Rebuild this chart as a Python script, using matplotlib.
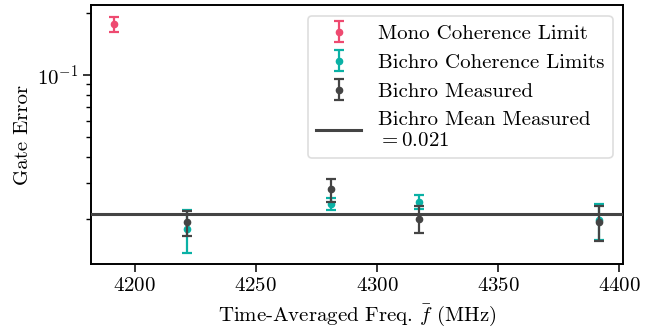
import matplotlib
matplotlib.use("Agg")
import matplotlib.pyplot as plt
from matplotlib.ticker import LogLocator, NullFormatter

plt.rcParams["font.family"] = "serif"
plt.rcParams["font.serif"] = ["cmr10"]
plt.rcParams["mathtext.fontset"] = "cm"
plt.rcParams["axes.formatter.use_mathtext"] = True
plt.rcParams["font.size"] = 15

# ── Data ───────────────────────────────────────────────────────────────────────
mono_freq = [4191.4]
mono_err_val = [0.1767]
mono_err_unc = [0.0143]

bichro_freq = [4221.4, 4280.9, 4317.5, 4391.5]
bichro_limit = [0.0178, 0.02355, 0.02415, 0.0197]
bichro_limit_unc = [0.0042, 0.0016, 0.0019, 0.0040]
bichro_meas = [0.0192, 0.0278, 0.0200, 0.0193]
bichro_meas_unc = [0.0027, 0.0036, 0.0030, 0.0037]
mean_meas = 0.021

PINK = "#ee4a70"
TEAL = "#0ab1a5"
DARK = "#444444"

fig = plt.figure(figsize=(6.61, 3.35), dpi=100)
ax = fig.add_axes([0.1377, 0.2119, 0.8048, 0.7717])

eb_kw = dict(fmt="o", markersize=4.5, elinewidth=1.6, capsize=3.4, capthick=1.6)
h1 = ax.errorbar(mono_freq, mono_err_val, yerr=mono_err_unc, color=PINK,
                 label="Mono Coherence Limit", zorder=3, **eb_kw)
h2 = ax.errorbar(bichro_freq, bichro_limit, yerr=bichro_limit_unc, color=TEAL,
                 label="Bichro Coherence Limits", zorder=3, **eb_kw)
h3 = ax.errorbar(bichro_freq, bichro_meas, yerr=bichro_meas_unc, color=DARK,
                 label="Bichro Measured", zorder=4, **eb_kw)
h4 = ax.axhline(mean_meas, color=DARK, lw=2.2, zorder=5,
                label="Bichro Mean Measured\n$= 0.021$")

ax.set_yscale("log")
ax.set_xlim(4182, 4401.5)
ax.set_ylim(0.01205, 0.218)
ax.set_xticks([4200, 4250, 4300, 4350, 4400])
ax.yaxis.set_minor_locator(LogLocator(base=10, subs=range(2, 10)))
ax.yaxis.set_minor_formatter(NullFormatter())

for s in ax.spines.values():
    s.set_linewidth(1.4)
ax.tick_params(which="major", length=5.5, width=1.1, direction="out")
ax.tick_params(which="minor", length=3.3, width=1.0, direction="out")

ax.set_xlabel(r"Time-Averaged Freq. $\bar{f}$ (MHz)", labelpad=6)
ax.set_ylabel("Gate Error")

leg = ax.legend(handles=[h1, h2, h3, h4], loc="upper right", frameon=True,
                fancybox=True, handlelength=2.15)
leg.get_frame().set_edgecolor("#d6d6d6")
leg.get_frame().set_linewidth(1.2)

fig.savefig("out.png", dpi=100)
